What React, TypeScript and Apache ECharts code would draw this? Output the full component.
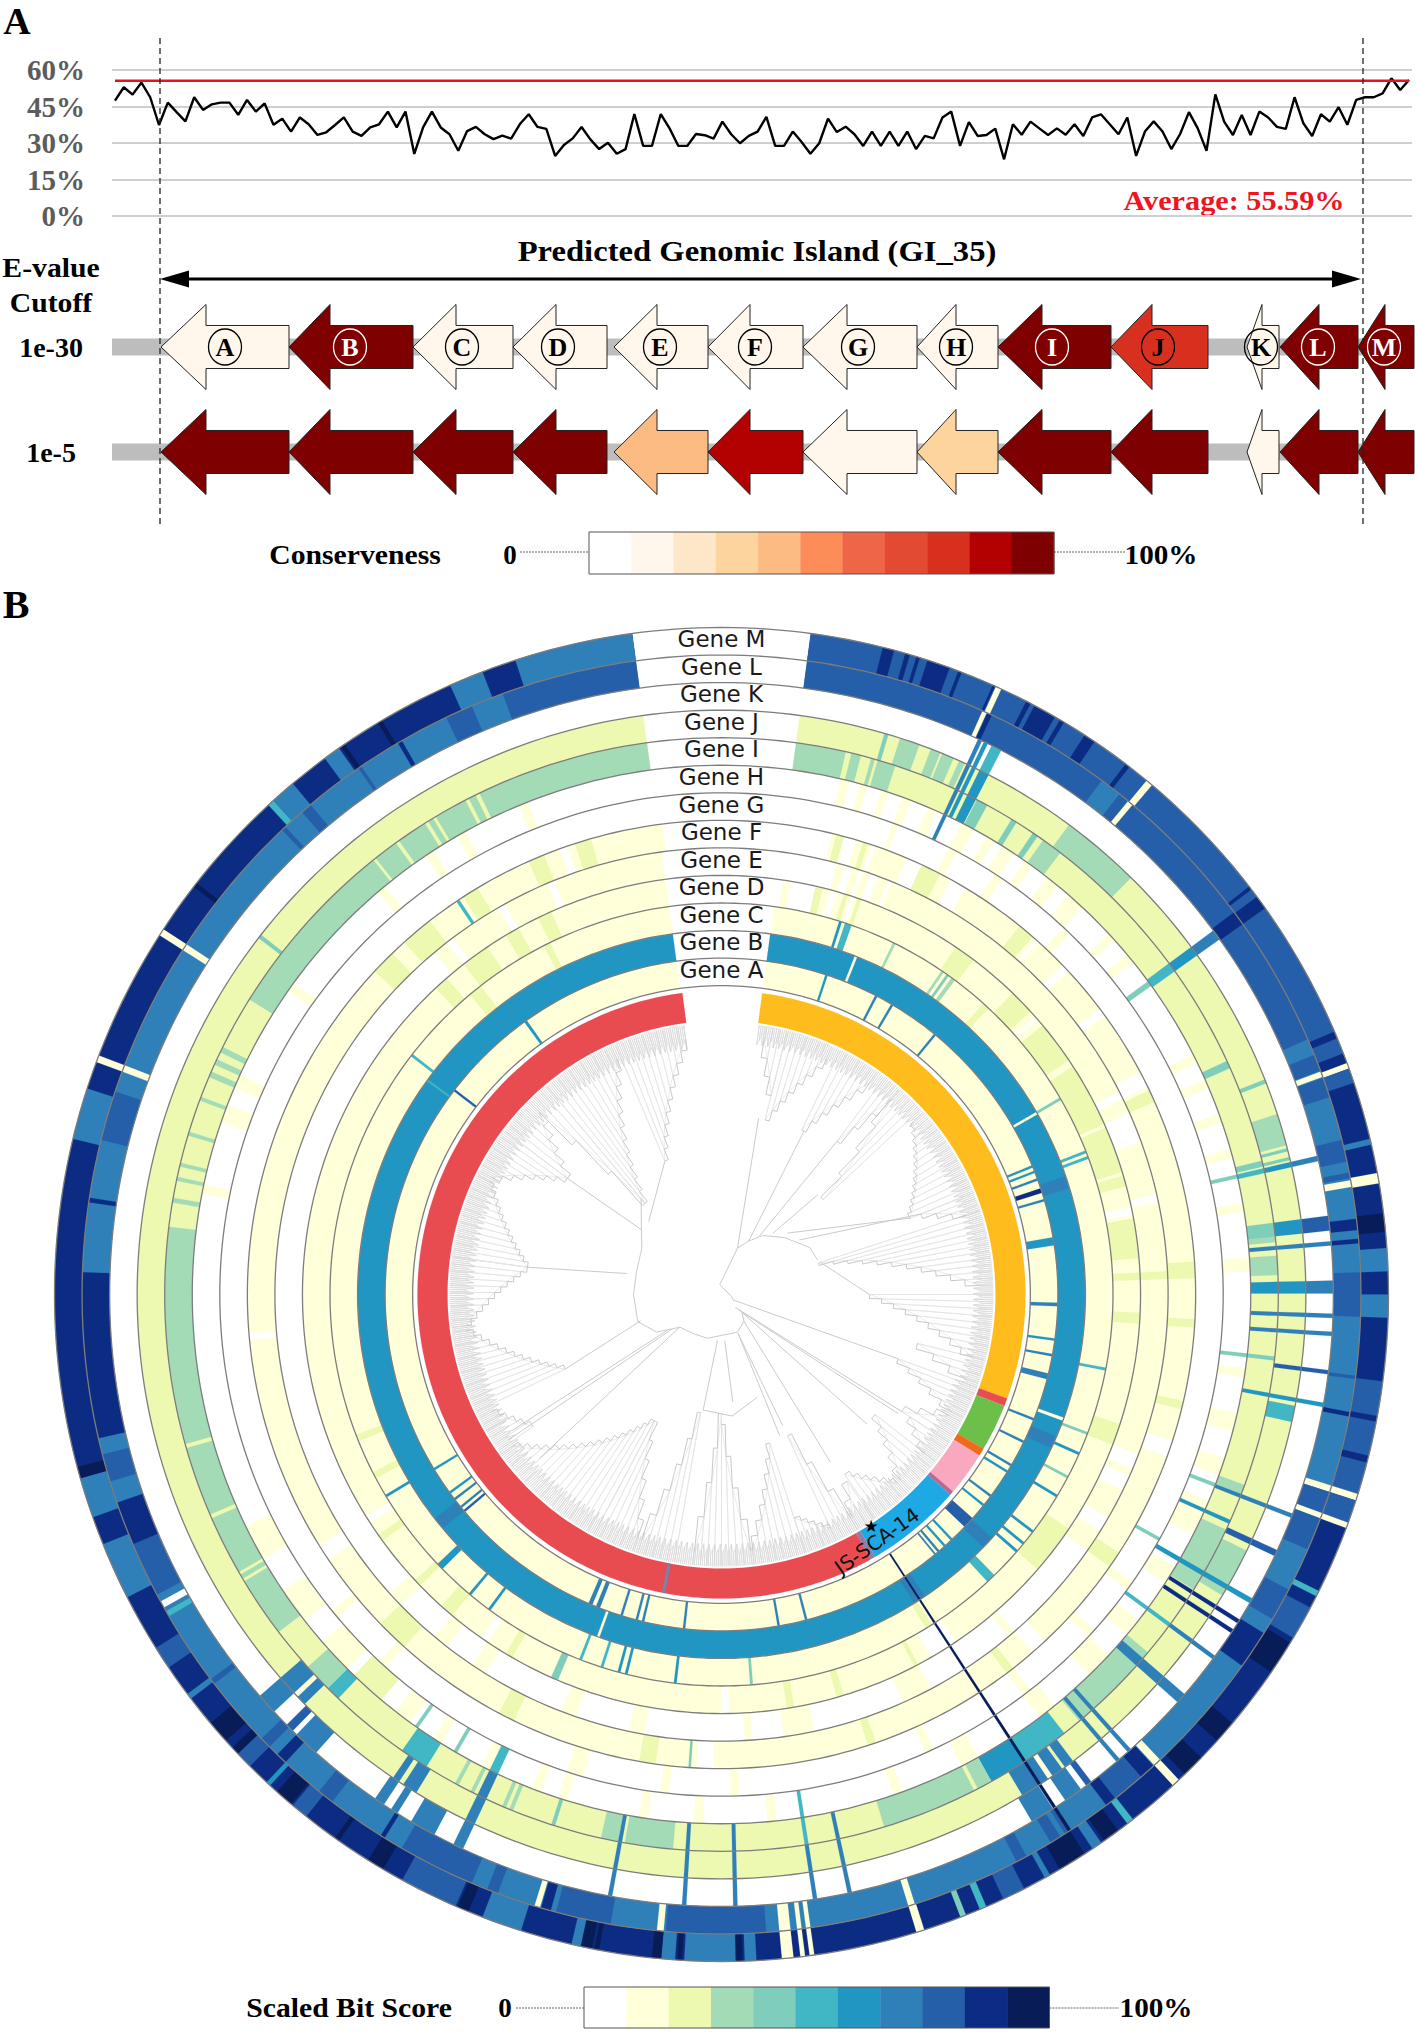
import React, { useEffect, useRef } from "react";
import * as echarts from "echarts";

const SERIF = '"Liberation Serif", serif';
const SANS = '"DejaVu Sans", sans-serif';

// ---------- Panel A: identity curve ----------
const identityTicks = [0, 15, 30, 45, 60];
const averageIdentity = 55.59;
const identity = [
  47.4, 52.9, 49.9, 54.8, 48.8, 37.4, 46.6, 42.7, 38.9, 48.8, 43.6, 45.9, 46.6, 46.6, 41.6, 47.7, 42.9, 46.3, 37.5, 40,
  34.7, 40.5, 37.7, 33.3, 34.4, 37.4, 40.5, 34.7, 32.9, 36.4, 37.7, 42.9, 36.4, 42.9, 25.5, 36.4, 42.9, 36.4, 33.6, 26.8,
  34.9, 36.6, 33.6, 31.6, 33, 31.8, 37.8, 41.8, 36.6, 35.8, 24.7, 29.2, 31.9, 36.6, 31.5, 27.5, 30.1, 25.6, 27.5, 41.9,
  28.8, 28.8, 41.9, 36, 28.8, 28.8, 33.7, 33.2, 31.8, 38.8, 33.6, 29.9, 32.9, 34.7, 40.7, 28.8, 28.8, 34.7, 30.4, 25.6,
  29.9, 40, 34.5, 36.7, 33.6, 28.8, 34.7, 28.8, 34.7, 28.8, 34.7, 27.5, 32.9, 31.9, 40.5, 42.9, 28.8, 38.6, 32.9, 33.3,
  35.9, 23.3, 37.7, 33.4, 38.8, 36, 33.3, 36, 33.4, 37.7, 32.9, 40.5, 41.8, 37.7, 33.6, 40.5, 24.7, 34.7, 38.9, 34.7,
  27.5, 33.7, 42.7, 36, 26.8, 50, 38.8, 33.3, 41.5, 33.3, 42.9, 40.5, 36.6, 35.8, 48.8, 38.1, 32.9, 41.8, 38.8, 44.7,
  37.5, 47.7, 48.8, 48.8, 50.4, 56.6, 51.8, 55.9,
];

// ---------- Panel A: genes ----------
const geneLetters = ["A", "B", "C", "D", "E", "F", "G", "H", "I", "J", "K", "L", "M"];
const geneTip = [161, 289, 413, 513, 614, 708, 803, 917, 998, 1111, 1247, 1280, 1358];
const geneShoulder = [206, 330, 456, 556, 657, 750, 847, 956, 1042, 1152, 1262, 1319, 1385];
const geneTail = [289, 413, 513, 607, 708, 803, 917, 998, 1111, 1208, 1279, 1358, 1414];
const geneLabelX = [225, 350, 462, 558, 660, 755, 858, 956, 1052, 1158, 1261, 1318, 1384];
const cutoffs = ["1e-30", "1e-5"];
const conservedAt1e30 = [1, 10, 1, 1, 1, 1, 1, 1, 10, 8, 1, 10, 10];
const conservedAt1e5 = [10, 10, 10, 10, 4, 9, 1, 3, 10, 10, 1, 10, 10];
const orRd = ["#ffffff", "#fff7ec", "#fee6c8", "#fdd49e", "#fdbb84", "#fc8d59", "#ef6548", "#e34a33", "#d7301f", "#b30000", "#7f0000"];
const ylGnBu = ["#ffffff", "#ffffd9", "#edf8b1", "#a3dbb7", "#7fcdbb", "#41b6c4", "#2196c2", "#2f80b8", "#255fa9", "#0c2c84", "#081d58"];

// ---------- Panel B: heat rings, [startAngle, endAngle, level] ----------
const geneA = [[7.7,352.3,1],[18,18.4,6],[27.2,27.6,7],[30.3,30.7,7],[39.2,39.6,7],[67.4,67.8,6],[68.4,68.8,6],[69.8,70.2,7],[71.6,72.4,9],[73.5,73.9,7],[80.2,81.6,6],[91.4,92,7],[97.5,97.9,6],[100.2,100.6,7],[103.6,104.6,7],[111.6,112,7],[115.8,116.2,7],[120.3,120.7,7],[121.6,122,6],[126.6,127,7],[128.6,129,6],[131.7,133.7,8],[136.6,137,6],[138.2,138.6,6],[139.6,140,7],[140.4,140.7,7],[165.2,165.6,7],[170,170.4,7],[186.2,186.6,7],[193.3,193.7,7],[194.4,194.8,7],[197.1,197.5,7],[201.2,201.9,7],[202.6,203.3,7],[229.7,230.1,8],[230.6,231,7],[232.3,232.7,7],[233.7,234.1,6],[238.5,238.9,6],[307.2,307.6,8],[324.1,324.6,6]];
const geneB = [[7.7,352.3,6],[21.5,21.9,1],[59.9,60.3,1],[71,73,7],[109.8,110.3,1],[113,115,7],[132,134,7],[146,148,7],[199.6,200,1],[230,232,7],[305.9,306.2,5]];
const geneC = [[7.7,352.3,1],[17.5,17.9,6],[18.4,19.4,5],[26,26.4,3],[34.2,34.6,3],[35.1,35.5,4],[36,36.6,3],[42,43,2],[59.8,60.2,4],[68.4,68.8,5],[69.3,69.7,5],[100.8,101.2,5],[110.6,111,4],[113.8,114.2,6],[117.6,118,4],[120.8,121.2,6],[127.1,127.5,6],[129.3,129.7,6],[130.8,131.2,6],[135.8,137.2,5],[147.5,148.5,2],[175.4,175.8,4],[186.6,187,6],[193.9,194.3,6],[195,195.4,6],[197.6,198,5],[200.9,201.3,5],[216.2,216.6,6],[219.8,220.2,6],[225.5,226.5,6],[238.8,239.2,6],[242,243,2],[248,249,2],[307.5,307.9,5],[320,322,2],[333,334,2]];
const geneD = [[7.7,352.3,1],[7.7,13,0],[8.5,9.5,1],[13,14,2],[15,16,0],[17,17.6,2],[18,18.5,0],[19,19.5,2],[34,37,2],[44,47.5,2],[48.5,49,0],[50,56,2],[57,66,2],[66.5,73,2],[73.5,75,2],[78,79,0],[79.5,85,2],[87,88,2],[92.5,94,2],[108,111,2],[124,131,2],[146,150,0],[152,152.6,2],[163,164,2],[170,171,2],[179,180,0],[203,204,4],[210,211,2],[214,215,0],[220,222,2],[226,227,2],[234,235,2],[237,238,0],[317,319,2],[322,326,2],[329,331,2],[334,336,2]];
const geneE = [[7.7,15,0],[15,125,1],[16,17,0],[18,18.5,0],[19.5,20.5,0],[22,22.4,0],[63,64,0],[66,70,0],[77,78,0],[87,88,2],[111,113,0],[114,116,0],[120,122,0],[125,320,0],[139,140,1],[152,156,1],[168,172,1],[176,177,1],[190,192,1],[199,201,1],[212,214,1],[218,220,1],[226,228,1],[320,352.3,1],[322,323,0],[330,331,0],[337,338,0]];
const geneF = [[13.5,352.9,1],[14,15,2],[15,16.5,0],[17.4,18,2],[18.5,19,0],[23,25,0],[25,27.5,2],[29,31,0],[39,41,2],[41.5,42,0],[46,47,0],[53,54,0],[62,64,0],[64.5,66,2],[86,88,2],[93,94,2],[103,104,2],[108,110,0],[123,125,2],[137,139,0],[142,143,2],[161,162,2],[181,183,0],[183.7,184,4],[188,190,2],[206,208,2],[222,226,2],[236,238,0],[264.5,265.3,0],[313,316,2],[318,322,2],[326,326.4,5],[327,329,2],[336,338,2],[340,341,0],[342,344,2]];
const geneG = [[20,20.6,1],[27,28,1],[33,34,1],[43,44,1],[119,119.4,4],[125,126,1],[132,133,1],[142,143,1],[155,156,1],[178,179,1],[186,187,1],[196,198,1],[222,223,1],[230,231,1]];
const geneH = [[13,14,1],[15.2,16,1],[17.6,18.4,1],[20,21,1],[23,24,1],[27,28.5,1],[30,31,1],[32,33.5,1],[35,36,1],[38,39.5,1],[41,43,1],[47,48,1],[50,51,1],[63,64,1],[66,67,1],[70,71,1],[74,75,1],[80,81,1],[86,87.5,1],[98,99,1],[103,105,1],[108,110,1],[113,117,1],[121,123,1],[128,130,1],[133,136,1],[141,143,1],[151,153,1],[160,161,1],[174,175,1],[182,183,1],[188,189,1],[197,198,1],[200,201,1],[206,207,1],[212,213,1],[216,218,1],[220,224,2],[225,229,1],[232,236,1],[240,244,1],[281,282,1],[289,291,1],[293,294.5,1],[305,306,1],[319.5,320.5,1],[326,327,1],[330,331,1],[337.5,338.5,1]];
const geneI = [[7.7,352.3,2],[7.7,12.9,3],[13.5,14.5,3],[15.6,16,3],[16.3,18.2,3],[27.3,28.5,4],[31.4,32,4],[34,34.6,4],[35.3,37.5,3],[65.2,66,4],[76.1,76.7,4],[83,84.6,3],[86,88,3],[110,111,3],[115,122,3],[130,140,3],[142,147,5],[147,151,6],[151,155,3],[152.6,153,2],[155,163,3],[185,190,3],[190.7,192.5,3],[197.4,197.8,4],[202,202.4,3],[202.8,203.2,3],[206.4,206.8,3],[208.2,208.6,3],[212,215,5],[223.5,225,5],[225,228,3],[232.7,277,3],[239,239.3,2],[239.8,240.1,2],[246.3,246.7,2],[254,254.4,2],[279.5,280,3],[281.8,282.2,3],[283.3,283.7,3],[286.6,287,3],[290.4,290.8,3],[293,293.6,3],[294.4,295,3],[295.8,296.4,3],[302,321.3,3],[321.6,324.2,3],[324.6,327.8,3],[328.2,332.6,3],[333,333.8,3],[334.2,352.3,3],[328.8,329.1,2],[333.8,334.2,2]];
const geneJ = [[7.7,352.3,2],[16.2,16.6,4],[17.8,19.8,3],[21,22,3],[22.2,23.4,3],[24,24.6,3],[36.5,44.5,3],[68.4,68.8,4],[72,75.2,3],[75.5,75.8,4],[76.4,76.7,4],[101,102.6,5],[116,121,3],[143,149,7],[144,144.3,2],[145.5,146,1],[211.5,213,7],[213.5,214.2,7],[225.5,229,7],[226.5,227,1],[307.6,308,4]];
const geneK = [[208,210.5,7],[212,212.7,7],[213.5,214.5,7],[221.5,224,7],[224.5,225.3,8],[227,229,7],[142.8,143.4,8],[144,145.8,7],[147.2,149.5,7]];
const geneL = [[7.7,352.3,7],[7.7,66.5,8],[24.1,24.5,1],[24.6,25,9],[36.5,38.5,7],[39.5,40,1],[53.3,54.6,9],[66.5,68,7],[68,69.5,8],[69.6,70.1,1],[70.2,72,8],[76,78,8],[79,79.5,8],[79.7,80.3,1],[83.2,84.2,9],[85,85.4,9],[88,92,8],[97.3,97.6,8],[100.6,101,9],[107.4,108,1],[108,110,8],[110,110.5,1],[110.5,113.5,8],[117.5,120.5,8],[122,125.5,9],[136.7,137.4,1],[137.5,139,9],[139,142,8],[142,143,9],[147,147.5,8],[148,149,8],[151.5,152.5,8],[162.4,163,1],[172,172.4,1],[172.8,173.2,1],[173.8,174.8,1],[176,185,8],[185.2,185.8,1],[190,195,8],[195.5,196.4,9],[196.5,197,1],[200.5,201.5,8],[203,210,8],[211.8,212.2,9],[217.5,219,8],[223,224,9],[225,226,8],[232.5,233,8],[239.8,240.3,5],[240.7,241.3,0],[242,247,8],[247,251,9],[253,255.5,8],[257,272,9],[278.3,278.7,9],[284,288.5,8],[290.4,291,1],[302.6,303.2,1],[316.6,317,8],[319,320,8],[325.4,325.7,8],[329.6,330,9],[334.5,337,8],[340,352.3,8]];
const geneM = [[7.7,352.3,9],[7.7,66.8,8],[14,15,9],[16,16.4,9],[17,17.3,9],[18,20,9],[20.8,21.1,9],[24,24.2,9],[24.3,24.8,1],[27.2,27.6,9],[28,30,9],[30.5,30.9,9],[33,34,9],[37.3,37.7,9],[39.6,40.2,1],[52.3,52.6,9],[53.4,54.6,9],[66.8,67.4,9],[67.4,68.8,8],[69.7,70.2,1],[70.2,71.5,8],[76.5,77,7],[79.5,80.4,1],[83,84.6,10],[86,88,7],[90,92,7],[97.5,100.5,8],[101,104,8],[104.6,107.4,8],[107.4,108,1],[108,110,8],[110,110.5,1],[116.4,116.9,5],[118,121,8],[121.5,124.5,10],[130,132,10],[134,136,10],[136.7,137.4,1],[141.9,142.5,5],[143.5,145,10],[145.3,146.2,7],[147,149.5,10],[150.5,151,7],[153,155,8],[156.6,157.2,5],[158.5,159,4],[162.3,163,1],[172,172.4,1],[172.8,173.2,1],[173.8,174.8,1],[177,178,7],[178.2,178.7,10],[178.8,183.2,7],[183.4,183.8,10],[184,185.2,7],[185.2,186,10],[190.6,191,10],[191.2,192.2,10],[192.2,193,7],[197.5,201,7],[202.3,203.3,10],[203.5,208.6,8],[210.5,212,10],[215,215.4,10],[218.5,220,8],[220.2,221.8,10],[222.6,223,6],[225,226.5,8],[226.5,227.2,10],[228,230,10],[232.7,233.2,7],[236,238,8],[243,248,7],[250.5,254,7],[254,255,10],[283.5,288,7],[290.4,291,1],[302.6,303.2,1],[307.7,308.1,10],[317.2,317.8,5],[317.8,320,7],[323.5,325,7],[325.2,325.6,10],[329,329.4,10],[336,339,7],[342,352.3,7]];
const heatRings = [geneA, geneB, geneC, geneD, geneE, geneF, geneG, geneH, geneI, geneJ, geneK, geneL, geneM];
const ringNames = ["Gene A", "Gene B", "Gene C", "Gene D", "Gene E", "Gene F", "Gene G", "Gene H", "Gene I", "Gene J", "Gene K", "Gene L", "Gene M"];

// Hits shared by several rings: [startAngle, endAngle, firstRing, lastRing, level]
const spokes = [
  [146.85,147.15,0,11,10],[24.8,25.2,7,10,7],[25.4,25.8,8,10,6],[26.2,27.2,8,9,6],[26.2,27.2,10,10,5],
  [53.7,54.3,7,7,4],[53.5,54.5,8,8,5],[53.5,54.5,9,9,6],[53.5,54.5,10,10,7],
  [76.9,77.3,7,7,4],[76.9,77.4,8,8,5],[76.9,77.4,9,9,6],[76.9,77.4,10,10,7],
  [82.6,84,8,8,4],[82.6,84,9,9,6],[82.6,84,10,10,8],[85,85.4,8,10,7],[88.7,89.9,8,9,6],[88.7,89.9,10,10,7],
  [91.8,92.2,8,10,7],[93.5,93.9,8,10,7],[96.4,96.8,7,8,4],[97.1,97.5,9,10,8],[100.2,100.6,8,10,6],
  [110.9,111.3,7,7,4],[111,111.4,8,10,7],[114.7,115.3,9,10,8],[113.9,114.3,7,8,6],[119.8,120.3,7,10,6],
  [122.1,122.5,8,10,9],[123.2,123.6,8,10,9],[126.2,126.6,7,8,5],[126.2,126.6,9,10,7],[130.8,131.8,8,10,7],
  [138,138.4,8,10,7],[139.4,139.8,8,10,7],[167.7,168.1,8,10,7],[171,171.4,7,8,5],[171,171.4,9,10,7],
  [178.5,178.9,8,10,7],[183.3,183.7,8,10,7],[190.3,190.7,8,10,7],[205,206,7,7,5],[205,206,8,10,7],
  [210,210.4,7,7,4],[215,215.4,7,7,4],
];

// Inner category ring: [startAngle, endAngle, colour]
const cladeBand = [
  [7.7,110,"#febc1d"],[110,111.5,"#e84c50"],[111.5,120.5,"#6cc04a"],[120.5,122,"#f06a1e"],[122,130.4,"#f9a8c0"],
  [130.4,131.2,"#b86a90"],[131.2,149.6,"#1ea8e4"],[149.6,150.6,"#8a80a8"],[150.6,352.6,"#e84c50"],[190.7,191.3,"#7b82a8"],
];

// Dendrogram: combs [angle at the base, angle at the rim end, base radius]
const treeCombs = [
  [14,24,180],[14,9.5,205],[26,35,183],[37,41,192],[47,41,139],[68,48,203],[68,72,215],[72,88,102],[90,104,148],[104,109,202],
  [110,117,188],[123,118,215],[123,128,225],[128,136,195],[145.6,137,218],[146,149.5,225],[155,150,156],[162,155,235],[162,173,156],
  [180,186,119],[180,173.5,130],[190,198,120],[208,199,143],[208,234,143],[235,243,230],[244.5,262,173],[278,263,196],[278,296,196],
  [307,297,193],[307,315,193],[320,315,119],[320,336,119],[337,352,145],
];
// Rim of tip branches: [startAngle, endAngle, inner radius]
const treeRim = [[8,110,252],[110,150,248],[150,240,250],[240,352,248]];
// Backbone branches: each a list of [radius, angle]
const treeBranches = [
  [[103,309],[92,300],[88,285],[88,270],[88,252]],[[97,282.5],[196,278]],[[103,309],[193,307]],[[85,252],[173,244.5]],
  [[88,252],[75,240],[60,235],[53,232],[48,215],[46,198],[41,157],[35,140]],[[60,235],[258,235.7]],[[65,236.5],[250,237]],[[53,232],[245,228]],
  [[46,176],[108,174]],[[117,189],[122,175],[109,161]],[[42,157],[153,157.6]],[[35,140],[200,147]],
  [[13,115],[188,110]],[[19,133],[215,123]],[[23,132],[213,124]],[[27,131],[195,131.7]],
  [[10,350],[49,19],[180,11.9]],[[49,19],[60,27],[72,35],[85,48],[100,62],[102,70]],
  [[60,27],[183,26.8]],[[70,33],[192,37]],[[80,40],[139,44]],[[90,47],[203,67.9]],[[95,55],[215,68]],[[104,72],[148,90]],
  [[13,115],[10,100],[10,350]],[[35,140],[27,131]],[[117,189],[46,185]],[[145,155],[42,157]],[[125,320],[103,309]],[[145,337],[103,315]],
];

const legendLabels = [
  { title: "Conserveness", titleX: 355, zeroX: 510, hundredX: 1161, textY: 555, boxX: 589, boxW: 465, boxY: 532, boxH: 42, lineY: 552, lineL: 520, lineR: 1125, colors: orRd },
  { title: "Scaled Bit Score", titleX: 349, zeroX: 505, hundredX: 1156, textY: 2008, boxX: 584, boxW: 465.5, boxY: 1987, boxH: 41, lineY: 2008, lineL: 516, lineR: 1119, colors: ylGnBu },
];

const CX = 721.5, CY = 1294.5, R_OUT = 667, RING = 27.55, R_IN = R_OUT - 13 * RING;
const ringR = (k: number) => R_IN + k * RING;

function arcPoints(api: any, r: number, a0: number, a1: number) {
  const n = Math.max(1, Math.ceil(Math.abs(a1 - a0)));
  const pts: number[][] = [];
  for (let i = 0; i <= n; i++) pts.push(api.coord([r, a0 + ((a1 - a0) * i) / n]));
  return pts;
}
function wedge(api: any, r0: number, r1: number, a0: number, a1: number, fill: string) {
  const pts = arcPoints(api, r1, a0, a1).concat(arcPoints(api, r0, a1, a0));
  return { type: "polygon", shape: { points: pts }, style: { fill, stroke: fill, lineWidth: 0.15 } };
}

function serifText(text: string, x: number, y: number, fontSize: number, fill = "#000", align = "center", scaleX = 1) {
  return {
    type: "text", x, y, scaleX, silent: true,
    style: { text, fontFamily: SERIF, fontWeight: "bold", fontSize, fill, align, verticalAlign: "middle" },
  };
}

export default function App() {
  const ref = useRef<HTMLDivElement>(null);
  useEffect(() => {
    document.body.style.margin = "0";
    const chart = echarts.init(ref.current!, undefined, { renderer: "svg" });

    const ringSegments: number[][] = [];
    heatRings.forEach((runs, k) => runs.forEach((r) => ringSegments.push([k, r[0], r[1], r[2]])));
    const spokeSegments: number[][] = [];
    spokes.forEach((s) => { for (let k = s[2]; k <= s[3]; k++) spokeSegments.push([k, s[0], s[1], s[4]]); });

    const graphics: any[] = [
      serifText("A", 17, 21, 38),
      serifText("B", 16, 604, 40),
      serifText("E-value", 51, 268, 27, "#000", "center", 1.1),
      serifText("Cutoff", 51, 303, 27, "#000", "center", 1.1),
      serifText("Predicted Genomic Island (GI_35)", 757, 252, 29, "#000", "center", 1.125),
      serifText("Average: 55.59%", 1234, 200, 28, "#f0141e", "center", 1.08),
      { type: "line", silent: true, z: 5, shape: { x1: 160, y1: 38, x2: 160, y2: 527 }, style: { stroke: "#222", lineWidth: 1.3, lineDash: [6, 4] } },
      { type: "line", silent: true, z: 5, shape: { x1: 1363, y1: 38, x2: 1363, y2: 527 }, style: { stroke: "#222", lineWidth: 1.3, lineDash: [6, 4] } },
      { type: "line", silent: true, shape: { x1: 185, y1: 279, x2: 1335, y2: 279 }, style: { stroke: "#000", lineWidth: 3 } },
      { type: "polygon", silent: true, shape: { points: [[160, 279], [189, 270.5], [189, 287.5]] }, style: { fill: "#000" } },
      { type: "polygon", silent: true, shape: { points: [[1361, 279], [1332, 270.5], [1332, 287.5]] }, style: { fill: "#000" } },
    ];
    legendLabels.forEach((l) => {
      graphics.push(serifText(l.title, l.titleX, l.textY, 27, "#000", "center", 1.1));
      graphics.push(serifText("0", l.zeroX, l.textY, 27));
      graphics.push(serifText("100%", l.hundredX, l.textY, 27, "#000", "center", 1.08));
      graphics.push({ type: "line", silent: true, shape: { x1: l.lineL, y1: l.lineY, x2: l.boxX, y2: l.lineY }, style: { stroke: "#666", lineWidth: 1, lineDash: [2, 1] } });
      graphics.push({ type: "line", silent: true, shape: { x1: l.boxX + l.boxW, y1: l.lineY, x2: l.lineR, y2: l.lineY }, style: { stroke: "#666", lineWidth: 1, lineDash: [2, 1] } });
      const w = l.boxW / l.colors.length;
      l.colors.forEach((c, i) => graphics.push({ type: "rect", silent: true, shape: { x: l.boxX + i * w, y: l.boxY, width: w + 0.4, height: l.boxH }, style: { fill: c } }));
      graphics.push({ type: "rect", silent: true, shape: { x: l.boxX, y: l.boxY, width: l.boxW, height: l.boxH }, style: { fill: "none", stroke: "#555", lineWidth: 1 } });
    });
    graphics.push({
      type: "text", silent: true, z: 20, x: 877, y: 1541, rotation: (35.6 * Math.PI) / 180,
      style: { text: "JS-SCA-14", fontFamily: SANS, fontSize: 20, fill: "#111", align: "center", verticalAlign: "middle" },
    });
    graphics.push({
      type: "text", silent: true, z: 21, x: 871, y: 1526,
      style: { text: "★", fontFamily: SANS, fontSize: 17, fill: "#000", align: "center", verticalAlign: "middle" },
    });

    chart.setOption({
      animation: false,
      backgroundColor: "#fff",
      graphic: graphics,
      grid: [
        { left: 112, right: 5, top: 70, height: 146, containLabel: false },
        { left: 112, right: 0, top: 294.5, height: 210, containLabel: false },
      ],
      xAxis: [
        { gridIndex: 0, type: "value", min: -0.34, max: identity.length - 1 + 0.34, show: false, splitLine: { show: false } },
        { gridIndex: 1, type: "value", min: 112, max: 1417, show: false, splitLine: { show: false } },
      ],
      yAxis: [
        {
          gridIndex: 0, type: "value", min: identityTicks[0], max: identityTicks[4], interval: 15,
          axisLine: { show: false }, axisTick: { show: false },
          splitLine: { lineStyle: { color: "#cfcfcf", width: 2 } },
          axisLabel: { formatter: "{value}%", margin: 27, color: "#5c5c5c", fontFamily: SERIF, fontWeight: "bold", fontSize: 29 },
        },
        {
          gridIndex: 1, type: "category", inverse: true, data: cutoffs,
          axisLine: { show: false }, axisTick: { show: false }, splitLine: { show: false },
          axisLabel: { margin: 61, align: "center", color: "#000", fontFamily: SERIF, fontWeight: "bold", fontSize: 28 },
        },
      ],
      polar: { center: [CX, CY], radius: R_OUT },
      radiusAxis: { min: 0, max: R_OUT, show: false, axisLine: { show: false }, axisTick: { show: false }, axisLabel: { show: false }, splitLine: { show: false } },
      angleAxis: { min: 0, max: 360, startAngle: 90, clockwise: true, show: false, axisLine: { show: false }, axisTick: { show: false }, axisLabel: { show: false }, splitLine: { show: false } },
      series: [
        {
          type: "line", xAxisIndex: 0, yAxisIndex: 0, silent: true, symbol: "none",
          data: identity.map((v, i) => [i, v]),
          lineStyle: { color: "#000", width: 2.4 },
        },
        {
          type: "line", xAxisIndex: 0, yAxisIndex: 0, silent: true, symbol: "none",
          data: [[0, averageIdentity], [identity.length - 1, averageIdentity]],
          lineStyle: { color: "#e8121c", width: 2.5 },
        },
        {
          type: "custom", xAxisIndex: 1, yAxisIndex: 1, silent: true, clip: false,
          data: cutoffs.map((_, i) => [112, i]),
          renderItem: (_p: any, api: any) => {
            const a = api.coord([112, api.value(1)]);
            const b = api.coord([1410, api.value(1)]);
            const h = api.size([0, 1])[1] * 0.081;
            return { type: "rect", shape: { x: a[0], y: a[1] - h, width: b[0] - a[0], height: 2 * h }, style: { fill: "#bdbdbd" } };
          },
        },
        {
          type: "custom", xAxisIndex: 1, yAxisIndex: 1, silent: true, clip: false,
          data: cutoffs.flatMap((_, row) => geneLetters.map((__, i) => [geneTip[i], row, i])),
          renderItem: (params: any, api: any) => {
            const row = Math.floor(params.dataIndex / geneLetters.length);
            const i = params.dataIndex % geneLetters.length;
            const level = (row === 0 ? conservedAt1e30 : conservedAt1e5)[i];
            const band = api.size([0, 1])[1];
            const [xTip, yc] = api.coord([geneTip[i], row]);
            const xS = api.coord([geneShoulder[i], row])[0];
            const xT = api.coord([geneTail[i], row])[0];
            const sh = band * 0.205, hd = band * 0.405;
            const children: any[] = [{
              type: "polygon",
              shape: { points: [[xTip, yc], [xS, yc - hd], [xS, yc - sh], [xT, yc - sh], [xT, yc + sh], [xS, yc + sh], [xS, yc + hd]] },
              style: { fill: orRd[level], stroke: "#222", lineWidth: 1 },
            }];
            if (row === 0) {
              const light = level === 1 || level === 8;
              const c = light ? "#000" : "#fff";
              const xL = api.coord([geneLabelX[i], row])[0];
              children.push({ type: "ellipse", shape: { cx: xL, cy: yc, rx: 16.5, ry: 18 }, style: { fill: "none", stroke: c, lineWidth: 1.3 } });
              children.push({ type: "text", x: xL, y: yc, style: { text: geneLetters[i], fontFamily: SERIF, fontWeight: "bold", fontSize: 26, fill: c, align: "center", verticalAlign: "middle" } });
            }
            return { type: "group", children };
          },
        },
        {
          type: "custom", coordinateSystem: "polar", silent: true, clip: false,
          data: ringSegments,
          renderItem: (params: any, api: any) => {
            const s = ringSegments[params.dataIndex];
            return wedge(api, ringR(s[0]), ringR(s[0] + 1), s[1], s[2], ylGnBu[s[3]]);
          },
        },
        {
          type: "custom", coordinateSystem: "polar", silent: true, clip: false,
          data: spokeSegments,
          renderItem: (params: any, api: any) => {
            const s = spokeSegments[params.dataIndex];
            return wedge(api, ringR(s[0]), ringR(s[0] + 1), s[1], s[2], ylGnBu[s[3]]);
          },
        },
        {
          type: "custom", coordinateSystem: "polar", silent: true, clip: false,
          data: Array.from({ length: 14 }, (_, k) => [ringR(k), k]),
          renderItem: (_p: any, api: any) => {
            const r = api.value(0);
            return { type: "polyline", shape: { points: arcPoints(api, r, 0, 360) }, style: { fill: "none", stroke: "#7d7d7d", lineWidth: 1.3 } };
          },
        },
        {
          type: "custom", coordinateSystem: "polar", silent: true, clip: false,
          data: cladeBand.map((c) => [274, c[0]]),
          renderItem: (params: any, api: any) => {
            const c = cladeBand[params.dataIndex] as any[];
            return wedge(api, 274, 304, c[0], c[1], c[2]);
          },
        },
        {
          // faint tips running out from each comb to the rim
          type: "custom", coordinateSystem: "polar", silent: true, clip: false,
          data: treeCombs,
          renderItem: (params: any, api: any) => {
            const [a0, a1, rBase] = treeCombs[params.dataIndex];
            const steps = Math.max(2, Math.round(Math.abs(a1 - a0) / 1.5));
            const pts: number[][] = [];
            for (let i = 0; i <= steps; i++) {
              const a = a0 + ((a1 - a0) * i) / steps;
              const r = rBase + ((258 - rBase) * i) / steps;
              pts.push(api.coord([r, a]), api.coord([271, a]), api.coord([r, a]));
            }
            return { type: "polyline", shape: { points: pts }, style: { fill: "none", stroke: "#e2e2e2", lineWidth: 0.7 } };
          },
        },
        {
          // dense short tips along the rim
          type: "custom", coordinateSystem: "polar", silent: true, clip: false,
          data: treeRim,
          renderItem: (params: any, api: any) => {
            const [a0, a1, r0] = treeRim[params.dataIndex];
            const n = Math.round((a1 - a0) / 0.42);
            const pts: number[][] = [];
            for (let i = 0; i <= n; i++) {
              const a = a0 + ((a1 - a0) * i) / n;
              const inner = r0 + (i % 3) * 5;
              pts.push(api.coord([inner, a]), api.coord([272, a]), api.coord([inner, a]));
            }
            return { type: "polyline", shape: { points: pts }, style: { fill: "none", stroke: "#d8d8d8", lineWidth: 0.7 } };
          },
        },
        {
          // staircase outline of each comb
          type: "custom", coordinateSystem: "polar", silent: true, clip: false,
          data: treeCombs,
          renderItem: (params: any, api: any) => {
            const [a0, a1, rBase] = treeCombs[params.dataIndex];
            const steps = Math.max(2, Math.round(Math.abs(a1 - a0) / 1.5));
            const pts: number[][] = [];
            for (let i = 0; i <= steps; i++) {
              const a = a0 + ((a1 - a0) * i) / steps;
              const r = rBase + ((258 - rBase) * i) / steps;
              if (i > 0) pts.push(api.coord([rBase + ((258 - rBase) * (i - 1)) / steps, a]));
              pts.push(api.coord([r, a]));
            }
            return { type: "polyline", shape: { points: pts }, style: { fill: "none", stroke: "#c9c9c9", lineWidth: 1 } };
          },
        },
        {
          type: "custom", coordinateSystem: "polar", silent: true, clip: false,
          data: treeBranches.map((b) => b[0]),
          renderItem: (params: any, api: any) => ({
            type: "polyline",
            shape: { points: treeBranches[params.dataIndex].map((p) => api.coord(p)) },
            style: { fill: "none", stroke: "#cbcbcb", lineWidth: 1 },
          }),
        },
        {
          type: "custom", coordinateSystem: "polar", silent: true, clip: false,
          data: ringNames.map((_, k) => [ringR(k) + RING / 2, 0]),
          renderItem: (params: any, api: any) => {
            const p = api.coord([api.value(0), 0]);
            return {
              type: "text", x: p[0], y: p[1] - 2,
              style: { text: ringNames[params.dataIndex], fontFamily: SANS, fontSize: 23, fill: "#1a1a1a", align: "center", verticalAlign: "middle" },
            };
          },
        },
      ],
    });
    return () => chart.dispose();
  }, []);
  return <div ref={ref} style={{ position: "absolute", left: 0, top: 0, width: 1417, height: 2032 }} />;
}
